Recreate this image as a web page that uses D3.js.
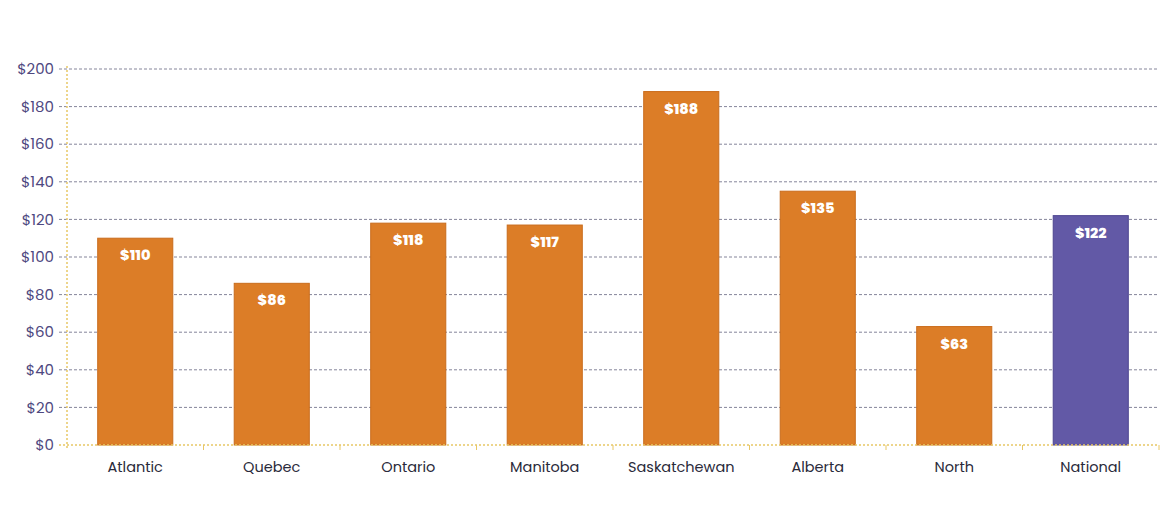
<!DOCTYPE html>
<html><head><meta charset="utf-8">
<script src="https://cdn.jsdelivr.net/npm/d3@7"></script>
<style>body{margin:0;background:#fff;}svg{display:block;}</style>
</head><body>
<svg id="c" width="1170" height="506"></svg>
<script>
const categories = ["Atlantic","Quebec","Ontario","Manitoba","Saskatchewan","Alberta","North","National"];
const values = [110,86,118,117,188,135,63,122];
const yTicks = [0,20,40,60,80,100,120,140,160,180,200];

const svg = d3.select("#c");
const m = {l:67, r:1159, t:69, b:445};
const x = d3.scaleBand().domain(categories).range([m.l, m.r]).paddingInner(0.45).paddingOuter(0.225);
const y = d3.scaleLinear().domain([0,200]).range([m.b, m.t]);

svg.append("g").selectAll("line").data(yTicks.filter(d=>d>0)).join("line")
  .attr("x1", m.l-8).attr("x2", m.r).attr("y1", d=>y(d)).attr("y2", d=>y(d))
  .attr("stroke","#85859a").attr("stroke-width",1).attr("stroke-dasharray","3,2");

svg.append("g").selectAll("text").data(yTicks).join("text")
  .attr("x", 54).attr("y", d=>y(d)).attr("dy","0.35em").attr("text-anchor","end")
  .attr("font-family","Poppins, Lato, 'Open Sans', sans-serif").attr("font-size",15)
  .attr("fill","#4e4880").text(d=>"$"+d);

const colors = values.map((v,i)=> categories[i]==="National" ? "#6259A6" : "#DC7D27");
const strokes = values.map((v,i)=> categories[i]==="National" ? "#4d4590" : "#c96c1c");
svg.append("g").selectAll("rect").data(values).join("rect")
  .attr("x",(d,i)=>x(categories[i])).attr("width",x.bandwidth())
  .attr("y",d=>y(d)).attr("height",d=>y(0)-y(d))
  .attr("fill",(d,i)=>colors[i]).attr("stroke",(d,i)=>strokes[i]).attr("stroke-width",1);

svg.append("g").selectAll("text").data(values).join("text")
  .attr("x",(d,i)=>x(categories[i])+x.bandwidth()/2).attr("y",d=>y(d)+22)
  .attr("text-anchor","middle").attr("font-family","Poppins, Lato, 'Open Sans', sans-serif")
  .attr("font-weight",800).attr("font-size",14.5).attr("fill","#fff").text(d=>"$"+d);

svg.append("line").attr("x1",m.l).attr("x2",m.l).attr("y1",m.t-3).attr("y2",m.b+3)
  .attr("stroke","#e8c766").attr("stroke-width",1.5).attr("stroke-dasharray","2,2");
svg.append("line").attr("x1",m.l-8).attr("x2",m.r).attr("y1",m.b).attr("y2",m.b)
  .attr("stroke","#e8c766").attr("stroke-width",1.5).attr("stroke-dasharray","2,2");
const bounds = categories.map(c=>x(c)-x.step()*x.paddingInner()/2).slice(1).concat([m.r]);
svg.append("g").selectAll("line").data(bounds).join("line")
  .attr("x1",d=>d).attr("x2",d=>d).attr("y1",m.b).attr("y2",m.b+5)
  .attr("stroke","#e8c766").attr("stroke-width",1);

svg.append("g").selectAll("text").data(categories).join("text")
  .attr("x",d=>x(d)+x.bandwidth()/2).attr("y",472).attr("text-anchor","middle")
  .attr("font-family","Poppins, Lato, 'Open Sans', sans-serif").attr("font-size",14.5)
  .attr("fill","#2a2a3a").text(d=>d);
</script>
</body></html>
